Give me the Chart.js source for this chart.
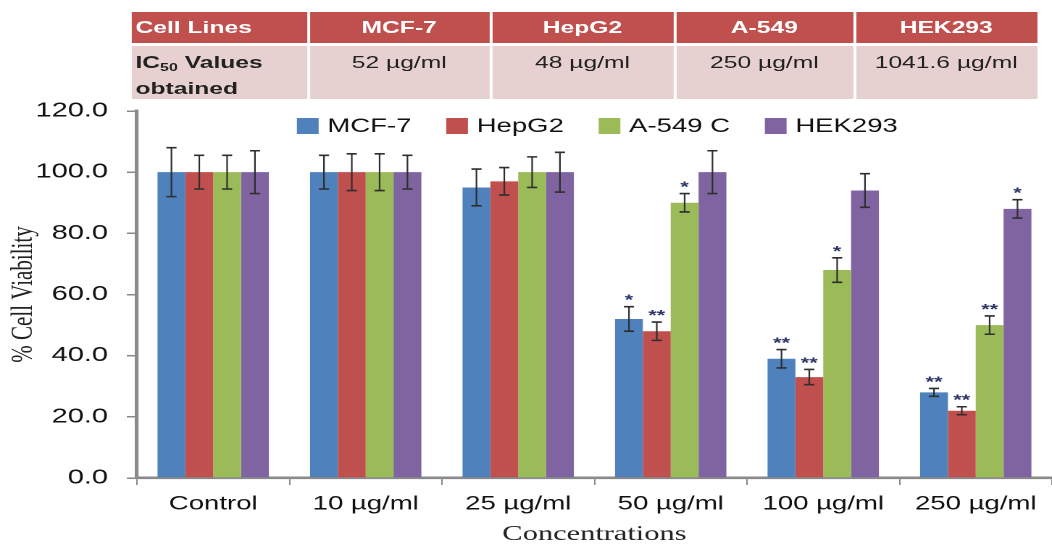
<!DOCTYPE html>
<html>
<head>
<meta charset="utf-8">
<script src="https://cdn.jsdelivr.net/npm/chart.js@4"></script>
<style>
  html, body { margin: 0; background: #fff; overflow: hidden; }
  /* the source figure is stretched sideways, so the whole drawing is too */
  #wrap { position: relative; width: 726px; height: 545px; transform: scaleX(1.449); transform-origin: 0 0; }
  #chart { width: 726px; height: 545px; }
  #ic50 {
    position: absolute; left: 88.5px; top: 9px; table-layout: fixed;
    border-collapse: separate; border-spacing: 2px 3px;
    font-family: "Liberation Sans", Arial, sans-serif; font-size: 17px;
  }
  #ic50 th { background: #c0504d; color: #fff; font-weight: bold; height: 31px; padding: 0 3px; }
  #ic50 th:first-child { text-align: left; }
  #ic50 td { background: #e7d0d0; color: #222; text-align: center; vertical-align: top;
             height: 47px; padding: 6px 3px 0 3px; line-height: 21px; }
  #ic50 td:first-child { text-align: left; font-weight: bold; }
  #ic50 sub { font-size: 11px; vertical-align: -3px; }
</style>
</head>
<body>
<div id="wrap">
  <canvas id="chart" width="726" height="545"></canvas>
  <table id="ic50">
    <colgroup><col style="width:121px"><col style="width:124px"><col style="width:125px"><col style="width:122px"><col style="width:125px"></colgroup>
    <tr><th>Cell Lines</th><th>MCF-7</th><th>HepG2</th><th>A-549</th><th>HEK293</th></tr>
    <tr><td>IC<sub>50</sub> Values<br>obtained</td><td>52 µg/ml</td><td>48 µg/ml</td><td>250 µg/ml</td><td>1041.6 µg/ml</td></tr>
  </table>
</div>
<script>
// concentrations on the x axis
var concentrations = ['Control', '10 µg/ml', '25 µg/ml', '50 µg/ml', '100 µg/ml', '250 µg/ml'];
var seriesNames = ['MCF-7', 'HepG2', 'A-549 C', 'HEK293'];
var seriesColors = ['#4f81bd', '#c0504d', '#9bbb59', '#8064a2'];

// % cell viability
var mcf7 = [100, 100, 95, 52, 39, 28];
var hepg2 = [100, 100, 97, 48, 33, 22];
var a549 = [100, 100, 100, 90, 68, 50];
var hek293 = [100, 100, 100, 100, 94, 88];

// error bar half widths
var mcf7Err = [8, 5.5, 6, 4, 3, 1.3];
var hepg2Err = [5.5, 6, 4.5, 3, 2.5, 1.3];
var a549Err = [5.5, 6, 5, 3, 4, 3];
var hek293Err = [7, 5.5, 6.5, 7, 5.5, 3];

// significance marks
var mcf7Sig = ['', '', '', '*', '**', '**'];
var hepg2Sig = ['', '', '', '**', '**', '**'];
var a549Sig = ['', '', '', '*', '*', '**'];
var hek293Sig = ['', '', '', '', '', '*'];

var yTicks = [0, 20, 40, 60, 80, 100, 120];

var values = [mcf7, hepg2, a549, hek293];
var errors = [mcf7Err, hepg2Err, a549Err, hek293Err];
var marks = [mcf7Sig, hepg2Sig, a549Sig, hek293Sig];

var sans = '"Liberation Sans", Arial, sans-serif';
var serif = '"Liberation Serif", "Times New Roman", serif';

var errorBars = {
    id: 'errorBars',
    afterDatasetsDraw: function(chart) {
        var ctx = chart.ctx;
        var y = chart.scales.y;
        ctx.save();
        chart.data.datasets.forEach(function(ds, i) {
            chart.getDatasetMeta(i).data.forEach(function(bar, j) {
                var v = values[i][j], e = errors[i][j];
                var top = y.getPixelForValue(v + e);
                var bot = y.getPixelForValue(v - e);
                ctx.strokeStyle = '#2e2e2e';
                ctx.lineWidth = 1.1;
                ctx.beginPath();
                ctx.moveTo(bar.x, top); ctx.lineTo(bar.x, bot);
                ctx.stroke();
                ctx.lineWidth = 1.6;
                ctx.beginPath();
                ctx.moveTo(bar.x - 3.5, top); ctx.lineTo(bar.x + 3.5, top);
                ctx.moveTo(bar.x - 3.5, bot); ctx.lineTo(bar.x + 3.5, bot);
                ctx.stroke();
                if (marks[i][j]) {
                    ctx.fillStyle = '#2b3566';
                    ctx.font = 'bold 15px ' + sans;
                    ctx.textAlign = 'center';
                    ctx.textBaseline = 'alphabetic';
                    ctx.fillText(marks[i][j], bar.x, top - 2);
                }
            });
        });
        ctx.restore();
    }
};

// legend sits inside the plot, across the top
var innerLegend = {
    id: 'innerLegend',
    afterDraw: function(chart) {
        var ctx = chart.ctx, area = chart.chartArea;
        var box = 15, gap = 6, space = 24;
        ctx.save();
        ctx.font = '19px ' + sans;
        var widths = chart.data.datasets.map(function(ds) { return ctx.measureText(ds.label).width; });
        var total = widths.reduce(function(a, w) { return a + box + gap + w; }, 0) + space * (widths.length - 1);
        var x = (area.left + area.right) / 2 - total / 2 + 2;
        var cy = area.top + 15;
        chart.data.datasets.forEach(function(ds, i) {
            ctx.fillStyle = ds.backgroundColor;
            ctx.fillRect(x, cy - 8, box, 16);
            ctx.fillStyle = '#111';
            ctx.textBaseline = 'middle';
            ctx.textAlign = 'left';
            ctx.fillText(ds.label, x + box + gap, cy + 1);
            x += box + gap + widths[i] + space;
        });
        ctx.restore();
    }
};

new Chart(document.getElementById('chart').getContext('2d'), {
    type: 'bar',
    data: {
        labels: concentrations,
        datasets: seriesNames.map(function(name, i) {
            return {
                label: name,
                data: values[i],
                backgroundColor: seriesColors[i],
                categoryPercentage: 0.73,
                barPercentage: 1.0
            };
        })
    },
    options: {
        responsive: false,
        animation: false,
        devicePixelRatio: 2,
        layout: { padding: { top: 111, left: 4, right: 0, bottom: 0 } },
        plugins: {
            tooltip: { enabled: false },
            legend: { display: false }
        },
        scales: {
            x: {
                offset: true,
                afterFit: function(axis) { axis.height = 67; },
                grid: { offset: true, drawOnChartArea: false, drawTicks: true, tickLength: 7, color: '#888', lineWidth: 1 },
                border: { color: '#8a8a8a', width: 2.6 },
                ticks: { color: '#111', padding: 8, font: { family: sans, size: 19 } },
                title: { display: true, text: 'Concentrations', color: '#222', padding: { top: 2, bottom: 0 },
                         font: { family: serif, size: 21, lineHeight: 1.0 } }
            },
            y: {
                min: 0, max: 120,
                afterFit: function(axis) { axis.width = 90.5; },
                afterBuildTicks: function(axis) { axis.ticks = yTicks.map(function(v) { return { value: v }; }); },
                grid: { drawOnChartArea: false, drawTicks: true, tickLength: 7, color: '#888', lineWidth: 1.5 },
                border: { color: '#8a8a8a', width: 2.6 },
                ticks: {
                    color: '#111', padding: 13,
                    font: { family: sans, size: 20 },
                    callback: function(v) { return Number(v).toFixed(1); }
                },
                title: { display: true, text: '% Cell Viability', color: '#222', padding: { top: 0, bottom: 0 },
                         font: { family: serif, size: 21 } }
            }
        }
    },
    plugins: [errorBars, innerLegend]
});
</script>
</body>
</html>
